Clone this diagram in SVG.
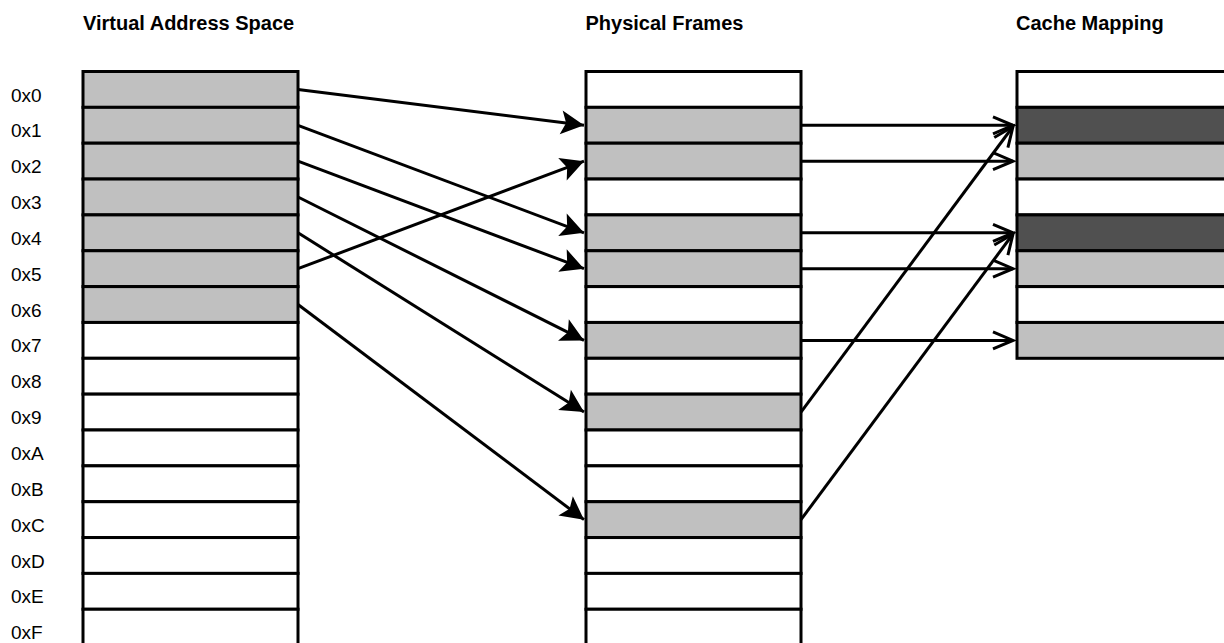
<svg xmlns="http://www.w3.org/2000/svg" width="1224" height="643" viewBox="0 0 1224 643">
<style>
.title{font-family:"Liberation Sans",Arial,sans-serif;font-size:20px;font-weight:bold;fill:#000}
.lbl{font-family:"Liberation Sans",Arial,sans-serif;font-size:19px;fill:#000}
.cell{stroke:#000;stroke-width:3;fill:#fff}
.g{fill:#c0c0c0}
.d{fill:#505050}
.conn{stroke:#000;stroke-width:3;fill:none}
</style>
<defs>
<marker id="solid" viewBox="-25 -14 28 28" markerWidth="28" markerHeight="28" refX="0" refY="0" orient="auto" markerUnits="userSpaceOnUse">
<path d="M0,0 L-23,-12 L-18,0 L-23,12 Z" fill="#000"/>
</marker>
<marker id="open" viewBox="-26 -14 32 28" markerWidth="32" markerHeight="28" refX="0" refY="0" orient="auto" markerUnits="userSpaceOnUse">
<path d="M-20,-8.5 L0,0 L-20,8.5" fill="none" stroke="#000" stroke-width="3"/>
</marker>
</defs>
<rect width="1224" height="643" fill="#fff"/>
<g id="titles">
<text class="title" x="83" y="29.5">Virtual Address Space</text>
<text class="title" x="585.5" y="29.5">Physical Frames</text>
<text class="title" x="1016" y="29.5">Cache Mapping</text>
</g>
<g id="labels">
<text class="lbl" x="11" y="101.5">0x0</text>
<text class="lbl" x="11" y="137.35">0x1</text>
<text class="lbl" x="11" y="173.2">0x2</text>
<text class="lbl" x="11" y="209.05">0x3</text>
<text class="lbl" x="11" y="244.9">0x4</text>
<text class="lbl" x="11" y="280.75">0x5</text>
<text class="lbl" x="11" y="316.6">0x6</text>
<text class="lbl" x="11" y="352.45">0x7</text>
<text class="lbl" x="11" y="388.3">0x8</text>
<text class="lbl" x="11" y="424.15">0x9</text>
<text class="lbl" x="11" y="460">0xA</text>
<text class="lbl" x="11" y="495.85">0xB</text>
<text class="lbl" x="11" y="531.7">0xC</text>
<text class="lbl" x="11" y="567.55">0xD</text>
<text class="lbl" x="11" y="603.4">0xE</text>
<text class="lbl" x="11" y="639.25">0xF</text>
</g>
<g id="virtual">
<rect class="cell g" x="83" y="71.5" width="215" height="35.85"/>
<rect class="cell g" x="83" y="107.35" width="215" height="35.85"/>
<rect class="cell g" x="83" y="143.2" width="215" height="35.85"/>
<rect class="cell g" x="83" y="179.05" width="215" height="35.85"/>
<rect class="cell g" x="83" y="214.9" width="215" height="35.85"/>
<rect class="cell g" x="83" y="250.75" width="215" height="35.85"/>
<rect class="cell g" x="83" y="286.6" width="215" height="35.85"/>
<rect class="cell" x="83" y="322.45" width="215" height="35.85"/>
<rect class="cell" x="83" y="358.3" width="215" height="35.85"/>
<rect class="cell" x="83" y="394.15" width="215" height="35.85"/>
<rect class="cell" x="83" y="430" width="215" height="35.85"/>
<rect class="cell" x="83" y="465.85" width="215" height="35.85"/>
<rect class="cell" x="83" y="501.7" width="215" height="35.85"/>
<rect class="cell" x="83" y="537.55" width="215" height="35.85"/>
<rect class="cell" x="83" y="573.4" width="215" height="35.85"/>
<rect class="cell" x="83" y="609.25" width="215" height="35.85"/>
</g>
<g id="physical">
<rect class="cell" x="586" y="71.5" width="215" height="35.85"/>
<rect class="cell g" x="586" y="107.35" width="215" height="35.85"/>
<rect class="cell g" x="586" y="143.2" width="215" height="35.85"/>
<rect class="cell" x="586" y="179.05" width="215" height="35.85"/>
<rect class="cell g" x="586" y="214.9" width="215" height="35.85"/>
<rect class="cell g" x="586" y="250.75" width="215" height="35.85"/>
<rect class="cell" x="586" y="286.6" width="215" height="35.85"/>
<rect class="cell g" x="586" y="322.45" width="215" height="35.85"/>
<rect class="cell" x="586" y="358.3" width="215" height="35.85"/>
<rect class="cell g" x="586" y="394.15" width="215" height="35.85"/>
<rect class="cell" x="586" y="430" width="215" height="35.85"/>
<rect class="cell" x="586" y="465.85" width="215" height="35.85"/>
<rect class="cell g" x="586" y="501.7" width="215" height="35.85"/>
<rect class="cell" x="586" y="537.55" width="215" height="35.85"/>
<rect class="cell" x="586" y="573.4" width="215" height="35.85"/>
<rect class="cell" x="586" y="609.25" width="215" height="35.85"/>
</g>
<g id="cache">
<rect class="cell" x="1017" y="71.5" width="240" height="35.85"/>
<rect class="cell d" x="1017" y="107.35" width="240" height="35.85"/>
<rect class="cell g" x="1017" y="143.2" width="240" height="35.85"/>
<rect class="cell" x="1017" y="179.05" width="240" height="35.85"/>
<rect class="cell d" x="1017" y="214.9" width="240" height="35.85"/>
<rect class="cell g" x="1017" y="250.75" width="240" height="35.85"/>
<rect class="cell" x="1017" y="286.6" width="240" height="35.85"/>
<rect class="cell g" x="1017" y="322.45" width="240" height="35.85"/>
</g>
<g id="connectors">
<line class="conn" x1="298" y1="89.43" x2="584" y2="125.28" marker-end="url(#solid)"/>
<line class="conn" x1="298" y1="125.28" x2="584" y2="232.83" marker-end="url(#solid)"/>
<line class="conn" x1="298" y1="161.13" x2="584" y2="268.68" marker-end="url(#solid)"/>
<line class="conn" x1="298" y1="196.98" x2="584" y2="340.38" marker-end="url(#solid)"/>
<line class="conn" x1="298" y1="232.83" x2="584" y2="412.08" marker-end="url(#solid)"/>
<line class="conn" x1="298" y1="268.68" x2="584" y2="161.13" marker-end="url(#solid)"/>
<line class="conn" x1="298" y1="304.53" x2="584" y2="519.63" marker-end="url(#solid)"/>
<line class="conn" x1="801" y1="125.28" x2="1013" y2="125.28" marker-end="url(#open)"/>
<line class="conn" x1="801" y1="161.13" x2="1013" y2="161.13" marker-end="url(#open)"/>
<line class="conn" x1="801" y1="232.83" x2="1013" y2="232.83" marker-end="url(#open)"/>
<line class="conn" x1="801" y1="268.68" x2="1013" y2="268.68" marker-end="url(#open)"/>
<line class="conn" x1="801" y1="340.38" x2="1013" y2="340.38" marker-end="url(#open)"/>
<line class="conn" x1="801" y1="412.08" x2="1013" y2="126.5" marker-end="url(#open)"/>
<line class="conn" x1="801" y1="519.63" x2="1013" y2="234" marker-end="url(#open)"/>
</g>
</svg>
